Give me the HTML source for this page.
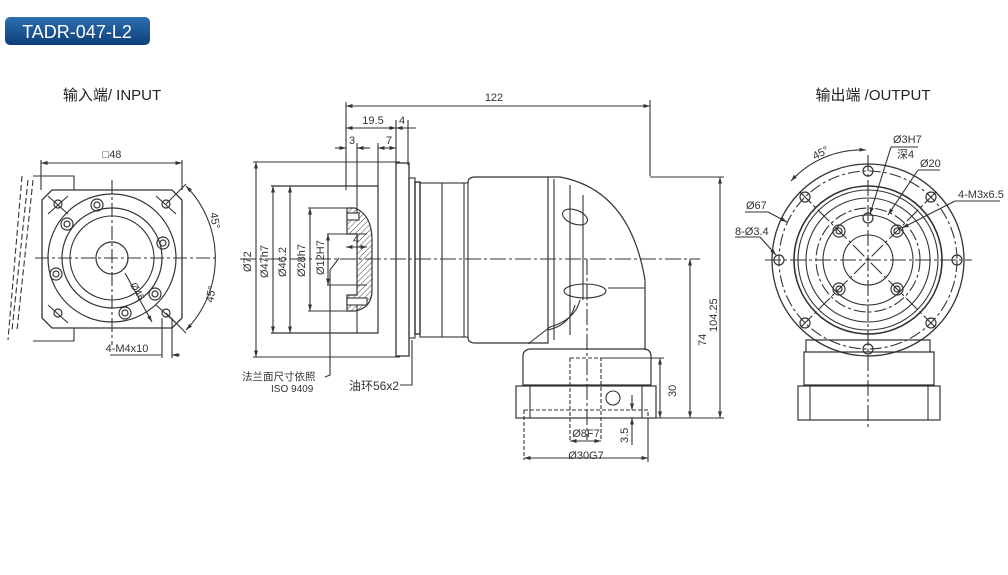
<!DOCTYPE html>
<html><head><meta charset="utf-8"><style>
html,body{margin:0;padding:0;background:#fff;}
svg{display:block;}
text{font-family:"Liberation Sans","Noto Sans CJK SC",sans-serif;fill:#333;}
</style></head><body>
<svg width="1008" height="575" viewBox="0 0 1008 575" xmlns="http://www.w3.org/2000/svg">
<defs>
<linearGradient id="bg" x1="0" y1="0" x2="0" y2="1"><stop offset="0" stop-color="#2d6fb0"/><stop offset="1" stop-color="#0d3f7a"/></linearGradient>
<marker id="a" viewBox="0 0 10 10" refX="10" refY="5" markerWidth="6" markerHeight="6" orient="auto-start-reverse"><path d="M0,2 L10,5 L0,8z" fill="#333"/></marker>
<pattern id="h" width="4" height="4" patternUnits="userSpaceOnUse" patternTransform="rotate(45)"><line x1="0" y1="0" x2="0" y2="4" stroke="#444" stroke-width="1"/></pattern>
</defs>
<rect x="5" y="17" width="145" height="28" rx="5" fill="url(#bg)"/>
<text x="77" y="38" font-size="18" text-anchor="middle" style="fill:#fff">TADR-047-L2</text>
<text x="112" y="100" font-size="15" text-anchor="middle" style="fill:#222">输入端/ INPUT</text>
<text x="873" y="100" font-size="15" text-anchor="middle" style="fill:#222">输出端 /OUTPUT</text>

<g fill="none" stroke="#333" stroke-width="1.1">
<!-- INPUT VIEW -->
<line x1="41" y1="163" x2="182" y2="163" marker-start="url(#a)" marker-end="url(#a)"/>
<line x1="41" y1="160" x2="41" y2="190"/><line x1="182" y1="160" x2="182" y2="190"/>
<path d="M52,190 L172,190 L182,200 L182,318 L172,328 L52,328 L42,318 L42,200 Z" stroke-width="1.3"/>
<path d="M33,176 L74,176 L74,190 M33,341 L74,341 L74,328"/>
<path d="M28,180 L12,330 M33,180 L17,330 M22,176 L8,340" stroke-dasharray="6,3"/>
<circle cx="112" cy="258" r="64" stroke-width="1.2"/>
<circle cx="112" cy="258" r="50" stroke-width="1.2"/>
<circle cx="112" cy="258" r="42"/>
<circle cx="112" cy="258" r="16" stroke-width="1.2"/>
<line x1="35" y1="258" x2="215" y2="258" stroke-dasharray="14,3,3,3"/>
<line x1="112" y1="180" x2="112" y2="345" stroke-dasharray="14,3,3,3"/>
<g stroke-width="1.2">
<circle cx="58" cy="204" r="4"/><circle cx="166" cy="204" r="4"/><circle cx="58" cy="313" r="4"/><circle cx="166" cy="313" r="4"/>
<circle cx="97" cy="205" r="6"/><circle cx="97" cy="205" r="3"/>
<circle cx="67" cy="224" r="6"/><circle cx="67" cy="224" r="3"/>
<circle cx="163" cy="243" r="6"/><circle cx="163" cy="243" r="3"/>
<circle cx="56" cy="274" r="6"/><circle cx="56" cy="274" r="3"/>
<circle cx="155" cy="294" r="6"/><circle cx="155" cy="294" r="3"/>
<circle cx="125" cy="313" r="6"/><circle cx="125" cy="313" r="3"/>
</g>
<path d="M48,196 L68,214 M68,196 L48,214 M156,196 L176,214 M48,305 L68,323 M156,305 L176,323"/>
<line x1="125" y1="273" x2="152" y2="322" marker-end="url(#a)"/>
<path d="M186,186 A103,103 0 0 1 186,330" marker-start="url(#a)" marker-end="url(#a)"/>
<line x1="166" y1="313" x2="186" y2="333"/><line x1="166" y1="204" x2="186" y2="184"/>
<line x1="162" y1="318" x2="162" y2="358"/><line x1="172" y1="318" x2="172" y2="358"/>
<line x1="110" y1="355" x2="162" y2="355"/><line x1="172" y1="355" x2="180" y2="355" marker-start="url(#a)"/>

<!-- SIDE VIEW -->
<line x1="346" y1="106" x2="650" y2="106" marker-start="url(#a)" marker-end="url(#a)"/>
<line x1="346" y1="102" x2="346" y2="190"/><line x1="650" y1="100" x2="650" y2="176"/>
<line x1="346" y1="128" x2="396" y2="128" marker-start="url(#a)" marker-end="url(#a)"/>
<line x1="396" y1="128" x2="416" y2="128" marker-start="url(#a)"/>
<line x1="396" y1="120" x2="396" y2="165"/><line x1="408" y1="120" x2="408" y2="165"/>
<line x1="335" y1="148" x2="346" y2="148" marker-end="url(#a)"/><line x1="357" y1="148" x2="370" y2="148" marker-start="url(#a)"/>
<line x1="357" y1="143" x2="357" y2="215"/>
<line x1="378" y1="148" x2="396" y2="148" marker-start="url(#a)" marker-end="url(#a)"/>
<line x1="378" y1="143" x2="378" y2="186"/>
<line x1="253" y1="162" x2="400" y2="162"/><line x1="253" y1="357" x2="400" y2="357"/>
<line x1="256" y1="162" x2="256" y2="357" marker-start="url(#a)" marker-end="url(#a)"/>
<path d="M271,186 L378,186 L378,333 L271,333" stroke-width="1.2"/>
<line x1="273" y1="186" x2="273" y2="333" marker-start="url(#a)" marker-end="url(#a)"/>
<line x1="290" y1="186" x2="290" y2="333" marker-start="url(#a)" marker-end="url(#a)"/>
<line x1="357" y1="300" x2="357" y2="333"/>
<path d="M308,208 L350,208 M308,311 L350,311"/>
<line x1="310" y1="208" x2="310" y2="311" marker-start="url(#a)" marker-end="url(#a)"/>
<path d="M327,234 L367,234 M327,285 L367,285"/>
<line x1="328" y1="234" x2="328" y2="285" marker-start="url(#a)" marker-end="url(#a)"/>
<line x1="346" y1="247" x2="367" y2="247" marker-start="url(#a)" marker-end="url(#a)"/>
<path d="M347,208 L355,208 Q372,215 372,240 L372,290 Q372,308 355,311 L347,311 L347,295 L357,295 L357,234 L347,234Z" fill="url(#h)" stroke-width="1.2"/>
<rect x="347" y="213" width="12" height="7" fill="#fff"/><rect x="347" y="298" width="20" height="7" fill="#fff"/>
<rect x="396" y="163" width="13" height="193" stroke-width="1.3"/>
<rect x="409" y="178" width="6" height="160"/><rect x="415" y="182" width="5" height="152" stroke-width="1.4"/>
<rect x="420" y="183" width="48" height="154"/>
<line x1="442" y1="183" x2="442" y2="337"/><line x1="464" y1="183" x2="464" y2="337"/>
<path d="M468,183 Q468,177 475,177 L548,177 L548,343 L475,343 Q468,343 468,337" stroke-width="1.2"/>
<line x1="554" y1="179" x2="554" y2="340"/><line x1="570" y1="185" x2="570" y2="335"/><line x1="583" y1="195" x2="583" y2="300"/>
<path d="M548,177 L560,177 Q630,190 645,280 L645,350" stroke-width="1.2"/>
<line x1="608" y1="288" x2="645" y2="288"/>
<ellipse cx="575" cy="217" rx="13" ry="7" transform="rotate(20 575 217)"/>
<ellipse cx="585" cy="291" rx="21" ry="7"/>
<path d="M580,300 Q575,320 550,327 L528,344 M575,305 Q570,325 548,330"/>
<line x1="240" y1="259" x2="700" y2="259" stroke-dasharray="16,3,3,3"/>
<line x1="587" y1="259" x2="587" y2="440" stroke-dasharray="16,3,3,3"/>
<path d="M523,356 Q523,350 530,349 L645,349 Q651,350 651,356 L651,385 L523,385Z" stroke-width="1.2"/>
<rect x="516" y="386" width="140" height="32" stroke-width="1.2"/>
<line x1="530" y1="386" x2="530" y2="418"/><line x1="642" y1="386" x2="642" y2="418"/>
<circle cx="613" cy="398" r="7"/>
<path d="M570,358 L601,358 L601,441 M570,358 L570,441 M524,410 L648,410 L648,418 M524,410 L524,460" stroke-dasharray="4,2"/>
<line x1="570" y1="441" x2="601" y2="441" marker-start="url(#a)" marker-end="url(#a)"/>
<line x1="524" y1="458" x2="648" y2="458" marker-start="url(#a)" marker-end="url(#a)"/>
<line x1="648" y1="418" x2="648" y2="462"/>
<line x1="632" y1="395" x2="632" y2="410" marker-end="url(#a)"/><line x1="632" y1="445" x2="632" y2="418" marker-end="url(#a)"/>
<line x1="601" y1="358" x2="664" y2="358"/><line x1="656" y1="418" x2="724" y2="418"/>
<line x1="660" y1="358" x2="660" y2="418" marker-start="url(#a)" marker-end="url(#a)"/>
<line x1="690" y1="259" x2="690" y2="418" marker-start="url(#a)" marker-end="url(#a)"/>
<line x1="650" y1="177" x2="724" y2="177"/>
<line x1="720" y1="177" x2="720" y2="418" marker-start="url(#a)" marker-end="url(#a)"/>
<path d="M339,258 L330,270 L330,375 L325,377" /><path d="M412,340 L412,385 L400,385"/>

<!-- OUTPUT VIEW -->
<circle cx="868" cy="260" r="96" stroke-width="1.3"/>
<circle cx="868" cy="260" r="89" stroke-dasharray="12,3,3,3"/>
<circle cx="868" cy="260" r="74" stroke-width="1.6"/>
<circle cx="868" cy="260" r="70"/>
<circle cx="868" cy="260" r="62"/>
<circle cx="868" cy="260" r="52" stroke-dasharray="12,3,3,3"/>
<circle cx="868" cy="260" r="45"/>
<circle cx="868" cy="260" r="25"/>
<line x1="765" y1="260" x2="972" y2="260" stroke-dasharray="16,3,3,3"/>
<line x1="868" y1="155" x2="868" y2="430" stroke-dasharray="16,3,3,3"/>
<line x1="800" y1="192" x2="936" y2="328" stroke-dasharray="16,3,3,3"/>
<line x1="936" y1="192" x2="800" y2="328" stroke-dasharray="16,3,3,3"/>
<g stroke-width="1.2">
<circle cx="868" cy="171" r="5"/><circle cx="868" cy="349" r="5"/><circle cx="779" cy="260" r="5"/><circle cx="957" cy="260" r="5"/>
<circle cx="805" cy="197" r="5"/><circle cx="931" cy="197" r="5"/><circle cx="805" cy="323" r="5"/><circle cx="931" cy="323" r="5"/>
<circle cx="868" cy="218" r="5"/>
<circle cx="839" cy="231" r="6"/><circle cx="839" cy="231" r="3"/><circle cx="897" cy="231" r="6"/><circle cx="897" cy="231" r="3"/>
<circle cx="839" cy="289" r="6"/><circle cx="839" cy="289" r="3"/><circle cx="897" cy="289" r="6"/><circle cx="897" cy="289" r="3"/>
</g>
<path d="M791,181 A95,95 0 0 1 866,150" marker-start="url(#a)" marker-end="url(#a)"/>
<line x1="745" y1="212" x2="768" y2="212"/><line x1="768" y1="212" x2="787" y2="222" marker-end="url(#a)"/>
<line x1="735" y1="237" x2="760" y2="237"/><line x1="760" y1="237" x2="776" y2="255" marker-end="url(#a)"/>
<line x1="891" y1="147" x2="918" y2="147"/><line x1="891" y1="147" x2="870" y2="214" marker-end="url(#a)"/>
<line x1="918" y1="170" x2="940" y2="170"/><line x1="918" y1="170" x2="888" y2="215" marker-end="url(#a)"/>
<line x1="955" y1="201" x2="1000" y2="201"/><line x1="955" y1="201" x2="902" y2="228" marker-end="url(#a)"/>
<path d="M806,352 L806,340 L930,340 L930,352 M804,352 L934,352 L934,385 L804,385Z" stroke-width="1.2"/>
<rect x="798" y="386" width="142" height="34" stroke-width="1.2"/>
<line x1="810" y1="386" x2="810" y2="420"/><line x1="928" y1="386" x2="928" y2="420"/>
</g>

<g font-size="11">
<text x="112" y="158" text-anchor="middle">□48</text>
<text x="127" y="352" text-anchor="middle">4-M4x10</text>
<text transform="translate(130,285) rotate(60)" font-size="10">Ø46</text>
<text transform="translate(210,213) rotate(80)">45°</text>
<text transform="translate(213,303) rotate(-80)">45°</text>
<text x="494" y="101" text-anchor="middle">122</text>
<text x="373" y="124" text-anchor="middle">19.5</text>
<text x="402" y="124" text-anchor="middle">4</text>
<text x="352" y="144" text-anchor="middle">3</text>
<text x="389" y="144" text-anchor="middle">7</text>
<text x="356" y="243" text-anchor="middle">4</text>
<text transform="translate(251,272) rotate(-90)">Ø72</text>
<text transform="translate(268,278) rotate(-90)">Ø47h7</text>
<text transform="translate(286,277) rotate(-90)">Ø46.2</text>
<text transform="translate(305,277) rotate(-90)">Ø28h7</text>
<text transform="translate(324,275) rotate(-90)">Ø12H7</text>
<text x="242" y="380" font-size="10.5">法兰面尺寸依照</text>
<text x="271" y="392" font-size="10">ISO 9409</text>
<text x="349" y="390" font-size="12">油环56x2</text>
<text x="586" y="437" text-anchor="middle">Ø8F7</text>
<text x="586" y="459" text-anchor="middle">Ø30G7</text>
<text transform="translate(628,443) rotate(-90)">3.5</text>
<text transform="translate(676,397) rotate(-90)">30</text>
<text transform="translate(706,346) rotate(-90)">74</text>
<text transform="translate(717,332) rotate(-90)">104.25</text>
<text transform="translate(815,160) rotate(-28)">45°</text>
<text x="746" y="209">Ø67</text>
<text x="735" y="235">8-Ø3.4</text>
<text x="893" y="143">Ø3H7</text>
<text x="897" y="158">深4</text>
<text x="920" y="167">Ø20</text>
<text x="958" y="198">4-M3x6.5</text>
</g>
</svg>
</body></html>
